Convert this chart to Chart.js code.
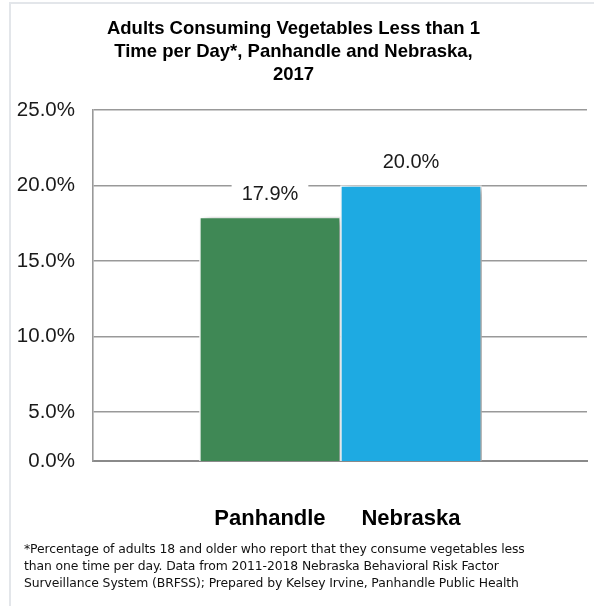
<!DOCTYPE html>
<html>
<head>
<meta charset="utf-8">
<script src="https://cdn.jsdelivr.net/npm/chart.js@4/dist/chart.umd.min.js"></script>
<style>
  html, body { margin: 0; padding: 0; background: #fff; width: 594px; height: 606px; overflow: hidden; }
  #frame { position: absolute; left: 9px; top: 2px; width: 700px; height: 700px; border: 2px solid #e3e6ea; box-sizing: border-box; }
  #wrap { position: absolute; left: 0; top: 0; width: 594px; height: 606px; }
  #note { position: absolute; left: 24px; top: 540px; font-family: "DejaVu Sans", sans-serif; font-size: 12.4px; line-height: 17px; color: #111; white-space: nowrap; letter-spacing: -0.1px; }
</style>
</head>
<body>
<div id="frame"></div>
<div id="wrap"><canvas id="c" width="594" height="606"></canvas></div>
<div id="note">*Percentage of adults 18 and older who report that they consume vegetables less<br>than one time per day. Data from 2011-2018 Nebraska Behavioral Risk Factor<br>Surveillance System (BRFSS); Prepared by Kelsey Irvine, Panhandle Public Health</div>
<script>
// ---- data ----
const categories = ["Panhandle", "Nebraska"];
const barValues = [17.9, 20.0];
const valueLabels = ["17.9%", "20.0%"];
const barColors = ["#3f8855", "#1eaae2"];
// the picture's value axis is cut: its baseline (labelled 0.0%) sits where ~1.75% would be
const yTickValues = [1.75, 5, 10, 15, 20, 25];
const yTickLabels = ["0.0%", "5.0%", "10.0%", "15.0%", "20.0%", "25.0%"];
const titleLines = ["Adults Consuming Vegetables Less than 1", "Time per Day*, Panhandle and Nebraska,", "2017"];

const FONT = '"Liberation Sans", Arial, sans-serif';

const shadowPlugin = {
  id: 'barShadow',
  beforeDatasetsDraw(chart) {
    const ctx = chart.ctx;
    ctx.save();
    ctx.shadowColor = 'rgba(0,0,0,0.4)';
    ctx.shadowBlur = 8;
    ctx.shadowOffsetX = 5;
    ctx.shadowOffsetY = 2;
  },
  afterDatasetsDraw(chart) {
    chart.ctx.restore();
    const ctx = chart.ctx;
    const meta = chart.getDatasetMeta(0);
    ctx.save();
    ctx.font = '20px ' + FONT;
    ctx.textAlign = 'center';
    ctx.textBaseline = 'middle';
    meta.data.forEach((bar, i) => {
      const txt = valueLabels[i];
      const w = ctx.measureText(txt).width + 20;
      const cy = bar.y - 24;
      ctx.fillStyle = '#fff';
      ctx.fillRect(bar.x - w / 2, cy - 14, w, 28);
      ctx.fillStyle = '#1a1a1a';
      ctx.fillText(txt, bar.x, cy + 1);
    });
    ctx.restore();
  }
};

new Chart(document.getElementById('c'), {
  type: 'bar',
  data: {
    datasets: [{
      data: barValues.map((v, i) => ({ x: i, y: v })),
      backgroundColor: barColors,
      borderColor: '#ffffff',
      borderWidth: 1.5,
      barPercentage: 1.0,
      categoryPercentage: 1.0
    }]
  },
  options: {
    responsive: false,
    animation: false,
    devicePixelRatio: 1,
    layout: { padding: { left: 0, right: 7, top: 0, bottom: 0 } },
    plugins: {
      legend: { display: false },
      tooltip: { enabled: false },
      title: {
        display: true,
        text: titleLines,
        color: '#000',
        font: { family: FONT, size: 18.5, weight: 'bold', lineHeight: 1.23 },
        padding: { top: 18, bottom: 23.7 }
      }
    },
    scales: {
      x: {
        type: 'linear',
        min: -1.255,
        max: 2.248,
        offset: false,
        afterFit(s) { s.height = 145; },
        afterBuildTicks(s) { s.ticks = categories.map((c, i) => ({ value: i })); },
        grid: { display: false, drawTicks: false },
        border: { display: true, color: '#8a8a8a', width: 2 },
        ticks: {
          padding: 45,
          color: '#000',
          font: { family: FONT, size: 22, weight: 'bold' },
          callback: (v) => categories[v],
          maxRotation: 0,
          autoSkip: false
        }
      },
      y: {
        min: yTickValues[0],
        max: yTickValues[yTickValues.length - 1],
        afterFit(s) { s.width = 93; },
        afterBuildTicks(s) { s.ticks = yTickValues.map(v => ({ value: v })); },
        grid: { color: '#999999', lineWidth: 1.6, drawTicks: false },
        border: { display: true, color: '#999999', width: 1.6 },
        ticks: {
          padding: 18,
          color: '#1a1a1a',
          font: { family: FONT, size: 20.5 },
          callback: (v) => yTickLabels[yTickValues.indexOf(v)]
        }
      }
    }
  },
  plugins: [shadowPlugin]
});
</script>
</body>
</html>
